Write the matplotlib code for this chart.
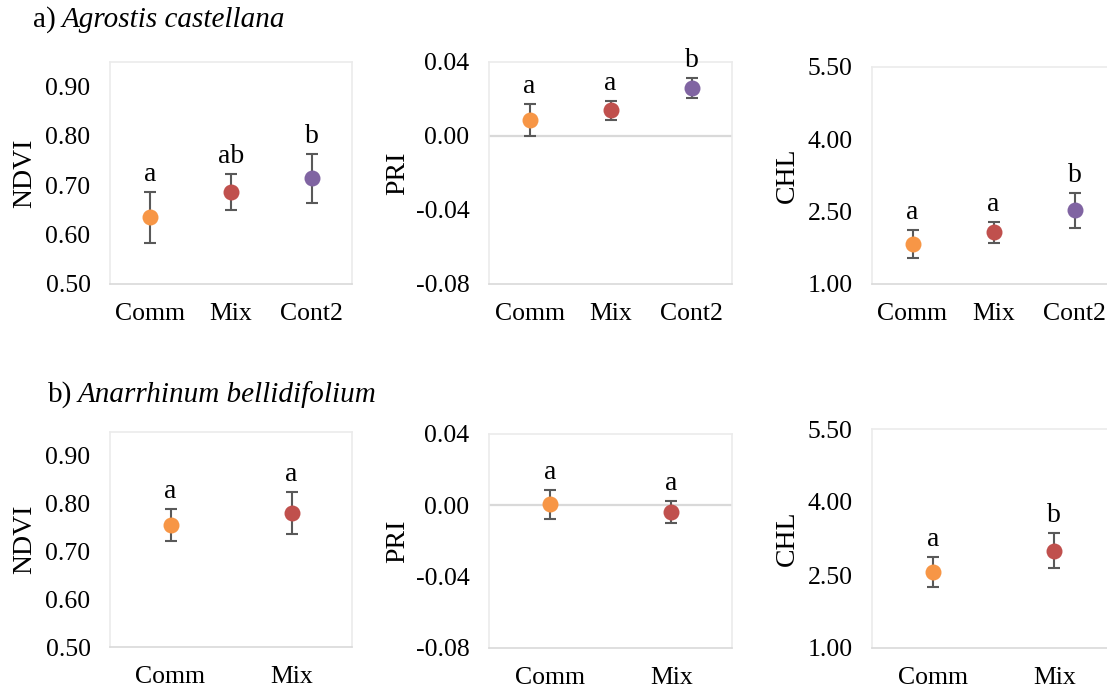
import matplotlib
matplotlib.use("Agg")
import matplotlib.pyplot as plt

W, H = 1107, 689

# --- a) Agrostis castellana ---
cats_a = ["Comm", "Mix", "Cont2"]
ndvi_a = [0.635, 0.686, 0.714]
ndvi_a_err = [0.052, 0.037, 0.049]
pri_a = [0.0087, 0.0138, 0.0257]
pri_a_err = [0.0086, 0.0050, 0.0054]
chl_a = [1.82, 2.07, 2.53]
chl_a_err = [0.29, 0.22, 0.36]
ndvi_a_lett = ["a", "ab", "b"]
pri_a_lett = ["a", "a", "b"]
chl_a_lett = ["a", "a", "b"]

# --- b) Anarrhinum bellidifolium ---
cats_b = ["Comm", "Mix"]
ndvi_b = [0.755, 0.780]
ndvi_b_err = [0.033, 0.044]
pri_b = [0.0005, -0.0037]
pri_b_err = [0.0080, 0.0060]
chl_b = [2.56, 3.00]
chl_b_err = [0.30, 0.36]
ndvi_b_lett = ["a", "a"]
pri_b_lett = ["a", "a"]
chl_b_lett = ["a", "b"]

COLORS = ["#f79646", "#c0504d", "#8064a2"]
ERR = "#595959"
FRAME = "#ebebeb"
BASE = "#d9d9d9"
FONT = "Liberation Serif"
FS = 18.5

plt.rcParams["font.family"] = FONT

fig = plt.figure(figsize=(W / 100, H / 100), dpi=100)


def box(x0, y0, x1, y1):
    # pixel box (top-left origin) -> figure fraction rect
    return [x0 / W, 1 - y1 / H, (x1 - x0) / W, (y1 - y0) / H]


def panel(rect, cats, vals, errs, letters, ylim, yticks, fmt, ylabel, lab_x,
          zero=False):
    ax = fig.add_axes(box(*rect))
    n = len(cats)
    xs = list(range(n))
    if zero:
        ax.axhline(0, color=BASE, linewidth=1.6, zorder=1)
    for i in xs:
        ax.errorbar(i, vals[i], yerr=errs[i], fmt="none", ecolor=ERR,
                    elinewidth=1.5, capsize=4.5, capthick=1.5, zorder=2)
        ax.plot(i, vals[i], "o", color=COLORS[i], markersize=11.5,
                markeredgewidth=0, zorder=3)
        ax.annotate(letters[i], (i, vals[i] + errs[i]), xytext=(0, 8),
                    textcoords="offset points", ha="center", va="baseline",
                    fontsize=20, color="black")
    ax.set_xlim(-0.5, n - 0.5)
    ax.set_ylim(*ylim)
    ax.set_yticks(yticks)
    ax.set_yticklabels([fmt.format(v) for v in yticks])
    ax.set_xticks(xs)
    ax.set_xticklabels(cats)
    ax.tick_params(length=0, labelsize=FS, colors="black")
    ax.tick_params(axis="y", pad=14)
    ax.tick_params(axis="x", pad=14)
    for s in ax.spines.values():
        s.set_color(FRAME)
        s.set_linewidth(1.2)
    ax.spines["bottom"].set_color(BASE)
    ymid = (rect[1] + rect[3]) / 2
    fig.text(lab_x / W, 1 - ymid / H, ylabel, rotation=90, ha="center",
             va="center", fontsize=20)
    return ax


ndvi_ticks = [0.5, 0.6, 0.7, 0.8, 0.9]
pri_ticks = [-0.08, -0.04, 0.0, 0.04]
chl_ticks = [1.0, 2.5, 4.0, 5.5]

panel((110, 62, 352, 284), cats_a, ndvi_a, ndvi_a_err, ndvi_a_lett,
      (0.5, 0.95), ndvi_ticks, "{:.2f}", "NDVI", 25)
panel((489, 62, 732, 284), cats_a, pri_a, pri_a_err, pri_a_lett,
      (-0.08, 0.04), pri_ticks, "{:.2f}", "PRI", 398, zero=True)
panel((872, 67, 1115, 284), cats_a, chl_a, chl_a_err, chl_a_lett,
      (1.0, 5.5), chl_ticks, "{:.2f}", "CHL", 787)

panel((110, 432, 352, 647), cats_b, ndvi_b, ndvi_b_err, ndvi_b_lett,
      (0.5, 0.95), ndvi_ticks, "{:.2f}", "NDVI", 25)
panel((489, 434, 732, 648), cats_b, pri_b, pri_b_err, pri_b_lett,
      (-0.08, 0.04), pri_ticks, "{:.2f}", "PRI", 398, zero=True)
panel((872, 429, 1115, 648), cats_b, chl_b, chl_b_err, chl_b_lett,
      (1.0, 5.5), chl_ticks, "{:.2f}", "CHL", 787)

# panel headings: letter upright, species name in italics
fig.text(33 / W, 1 - 20 / H, "a)", fontsize=21, ha="left", va="center")
fig.text(62 / W, 1 - 20 / H, "Agrostis castellana", fontsize=21,
         style="italic", ha="left", va="center")
fig.text(48 / W, 1 - 395 / H, "b)", fontsize=21, ha="left", va="center")
fig.text(78 / W, 1 - 395 / H, "Anarrhinum bellidifolium", fontsize=21,
         style="italic", ha="left", va="center")

fig.savefig("out.png", dpi=100, facecolor="white")
